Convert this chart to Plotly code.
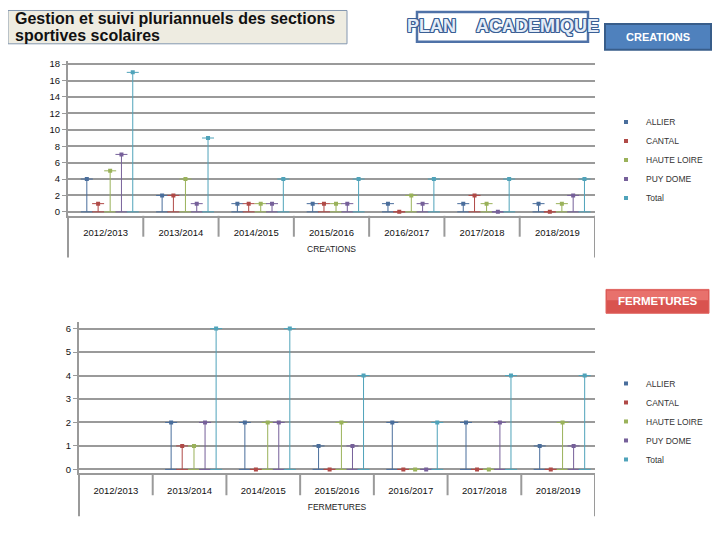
import plotly.graph_objects as go

# ---------------- data ----------------
categories = ["2012/2013", "2013/2014", "2014/2015", "2015/2016",
              "2016/2017", "2017/2018", "2018/2019"]
series_names = ["ALLIER", "CANTAL", "HAUTE LOIRE", "PUY DOME", "Total"]

creations_allier = [4, 2, 1, 1, 1, 1, 1]
creations_cantal = [1, 2, 1, 1, 0, 2, 0]
creations_haute_loire = [5, 4, 1, 1, 2, 1, 1]
creations_puy_dome = [7, 1, 1, 1, 1, 0, 2]
creations_total = [17, 9, 4, 4, 4, 4, 4]

fermetures_allier = [None, 2, 2, 1, 2, 2, 1]
fermetures_cantal = [None, 1, 0, 0, 0, 0, 0]
fermetures_haute_loire = [None, 1, 2, 2, 0, 0, 2]
fermetures_puy_dome = [None, 2, 2, 1, 0, 2, 1]
fermetures_total = [None, 6, 6, 4, 2, 4, 4]

creations = [creations_allier, creations_cantal, creations_haute_loire,
             creations_puy_dome, creations_total]
fermetures = [fermetures_allier, fermetures_cantal, fermetures_haute_loire,
              fermetures_puy_dome, fermetures_total]

# ---------------- style ----------------
colors = ["#4A6E9C", "#B04A47", "#9AB25A", "#76609A", "#4FA3BA"]
offsets = [-0.25, -0.10, 0.06, 0.21, 0.36]   # position of each series within a category
PAGE_OFF = 8          # browser body margin
W, H = 720 - PAGE_OFF, 540 - PAGE_OFF
FONT = "Liberation Sans, Arial, sans-serif"
GRID = "#9a9a9a"


def px_x(p):
    return (p - PAGE_OFF) / W


def px_y(p):
    return 1 - (p - PAGE_OFF) / H


fig = go.Figure()

for data, xa, ya, leg in [(creations, "x", "y", "legend"),
                          (fermetures, "x2", "y2", "legend2")]:
    for j, (name, vals) in enumerate(zip(series_names, data)):
        xs = [i + offsets[j] for i in range(len(categories))]
        fig.add_trace(go.Scatter(
            x=xs, y=vals, name=name, mode="markers",
            xaxis=xa, yaxis=ya, legend=leg,
            marker=dict(symbol="square", size=4, color=colors[j]),
            error_y=dict(type="data", symmetric=False,
                         array=[0 for v in vals],
                         arrayminus=[v if v is not None else 0 for v in vals],
                         color=colors[j], thickness=1, width=6),
            hovertemplate=name + " %{text}: %{y}<extra></extra>",
            text=categories,
        ))

n = len(categories)
axis_common = dict(showline=True, linecolor=GRID, linewidth=2, zeroline=False)

fig.update_layout(
    width=W, height=H,
    margin=dict(l=0, r=0, t=0, b=0),
    paper_bgcolor="white", plot_bgcolor="white",
    font=dict(family=FONT, color="#222222", size=9),
    showlegend=True,
    xaxis=dict(domain=[px_x(68), px_x(595)], range=[-0.5, n - 0.5], anchor="y",
               tickvals=list(range(n)), ticktext=categories, showgrid=False,
               ticks="outside", ticklen=7, tickcolor="rgba(0,0,0,0)",
               tickfont=dict(size=9.5, color="#111111"),
               title=dict(text="CREATIONS", font=dict(size=8.5, color="#222222"), standoff=9),
               **axis_common),
    yaxis=dict(domain=[px_y(215), px_y(59)], range=[-0.485, 18.42], anchor="x",
               tickvals=list(range(0, 19, 2)), showgrid=True, gridcolor=GRID, gridwidth=2,
               ticks="outside", ticklen=4, tickcolor=GRID,
               tickfont=dict(size=9.5, color="#111111"), **axis_common),
    xaxis2=dict(domain=[px_x(79), px_x(595)], range=[-0.5, n - 0.5], anchor="y2",
                tickvals=list(range(n)), ticktext=categories, showgrid=False,
                ticks="outside", ticklen=7, tickcolor="rgba(0,0,0,0)",
                tickfont=dict(size=9.5, color="#111111"),
                title=dict(text="FERMETURES", font=dict(size=8.5, color="#222222"), standoff=9),
                **axis_common),
    yaxis2=dict(domain=[px_y(474), px_y(322)], range=[-0.17, 6.27], anchor="x2",
                tickvals=list(range(0, 7)), showgrid=True, gridcolor=GRID, gridwidth=2,
                ticks="outside", ticklen=4, tickcolor=GRID,
                tickfont=dict(size=9.5, color="#111111"), **axis_common),
    legend=dict(x=px_x(606), y=px_y(106), xanchor="left", yanchor="top",
                font=dict(size=8.5, color="#333333"), bgcolor="rgba(0,0,0,0)",
                itemsizing="trace"),
    legend2=dict(x=px_x(606), y=px_y(369), xanchor="left", yanchor="top",
                 font=dict(size=8.5, color="#333333"), bgcolor="rgba(0,0,0,0)",
                 itemsizing="trace"),
)

shapes = []
# category table of both charts
for xa, left_px, top_px, div_bottom, frame_bottom in [("x", 68, 215, 236, 257),
                                                      ("x2", 79, 474, 496, 517)]:
    shapes.append(dict(type="line", xref="paper", yref="paper",
                       x0=px_x(left_px), x1=px_x(left_px),
                       y0=px_y(top_px), y1=px_y(frame_bottom),
                       line=dict(color=GRID, width=2)))
    for b in range(1, n + 1):
        bottom = frame_bottom if b == n else div_bottom
        shapes.append(dict(type="line", xref=xa, yref="paper",
                           x0=b - 0.5, x1=b - 0.5,
                           y0=px_y(top_px), y1=px_y(bottom),
                           line=dict(color=GRID, width=2)))

# header boxes
shapes += [
    dict(type="rect", xref="paper", yref="paper", x0=px_x(8), x1=px_x(347),
         y0=px_y(42), y1=px_y(8.5), fillcolor="#EEECE1", line=dict(color="#8497B0", width=1)),
    dict(type="rect", xref="paper", yref="paper", x0=px_x(417), x1=px_x(588),
         y0=px_y(40), y1=px_y(10), fillcolor="rgba(0,0,0,0)", line=dict(color="#4F72A8", width=2.5)),
    dict(type="rect", xref="paper", yref="paper", x0=px_x(605), x1=px_x(711),
         y0=px_y(48), y1=px_y(22), fillcolor="#4F81BD", line=dict(color="#385D8A", width=2)),
    dict(type="rect", xref="paper", yref="paper", x0=px_x(606), x1=px_x(709),
         y0=px_y(313), y1=px_y(289), fillcolor="#D9534F", line=dict(color="#E06560", width=1)),
    dict(type="rect", xref="paper", yref="paper", x0=px_x(607), x1=px_x(708),
         y0=px_y(300), y1=px_y(290), fillcolor="#E8716C", line=dict(width=0)),
]

outline = "#3A5F95"
shadow = ", ".join(f"{a}px {b}px 0 {outline}" for a, b in
                   [(1, 1), (-1, -1), (1, -1), (-1, 1), (1, 0), (-1, 0), (0, 1), (0, -1)])

annotations = [
    dict(text="Gestion et suivi pluriannuels des sections", x=px_x(13), y=px_y(17),
         xanchor="left", yanchor="middle"),
    dict(text="sportives scolaires", x=px_x(13), y=px_y(34),
         xanchor="left", yanchor="middle"),
]
for a in annotations:
    a.update(xref="paper", yref="paper", showarrow=False,
             font=dict(family=FONT, size=16, weight="bold", color="#111111"))
annotations += [
    dict(text="PLAN\u00a0\u00a0\u00a0\u00a0ACADEMIQUE", x=px_x(503), y=px_y(24),
         xref="paper", yref="paper", showarrow=False, xanchor="center", yanchor="middle",
         font=dict(family=FONT, size=18, weight="bold", color="#E4ECF7", shadow=shadow)),
    dict(text="CREATIONS", x=px_x(658), y=px_y(35), xref="paper", yref="paper",
         showarrow=False, xanchor="center", yanchor="middle",
         font=dict(family=FONT, size=11, weight="bold", color="white")),
    dict(text="FERMETURES", x=px_x(657.5), y=px_y(301), xref="paper", yref="paper",
         showarrow=False, xanchor="center", yanchor="middle",
         font=dict(family=FONT, size=11.5, weight="bold", color="white")),
]

fig.update_layout(shapes=shapes, annotations=annotations)
fig.write_html("out.html")
